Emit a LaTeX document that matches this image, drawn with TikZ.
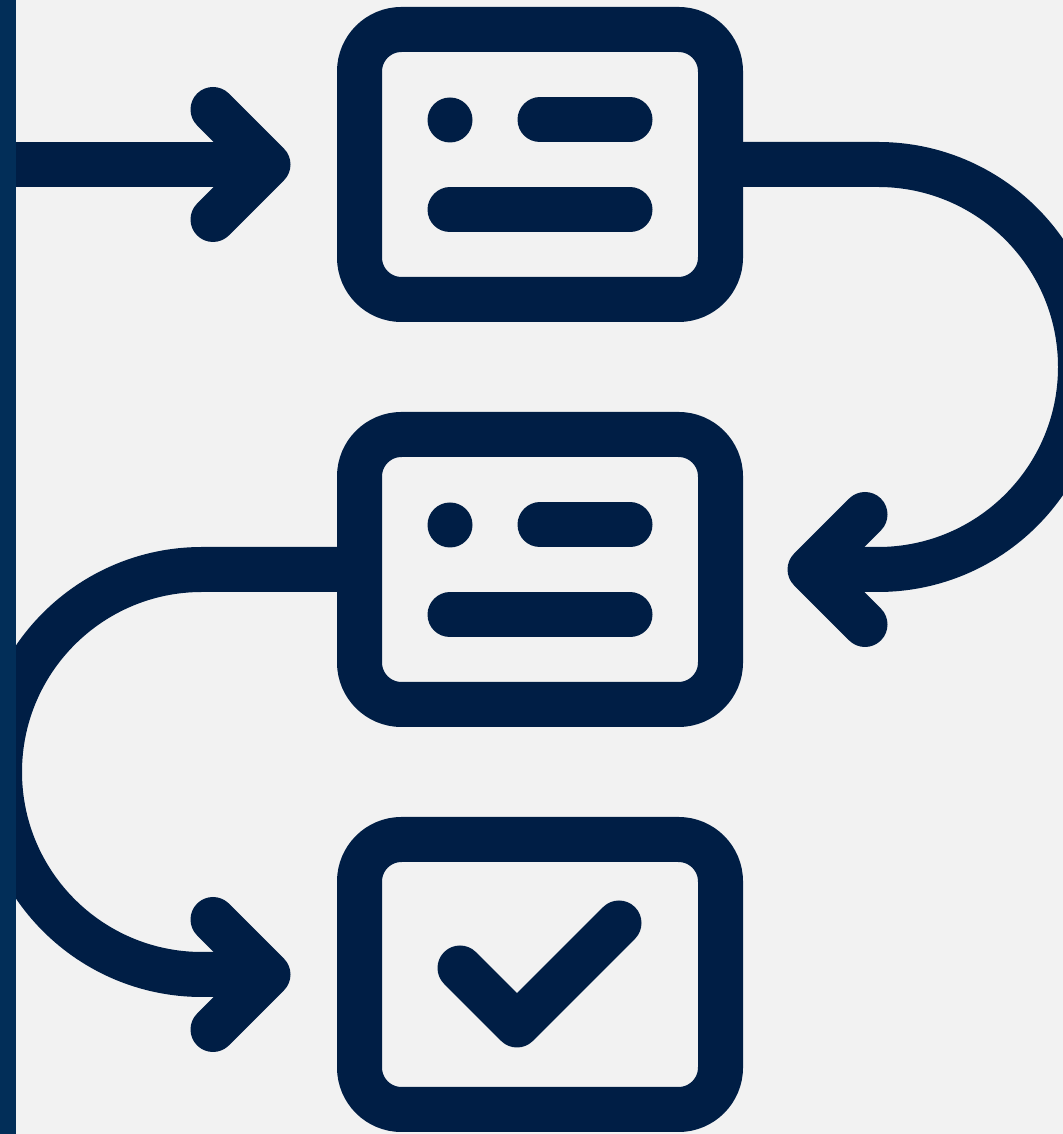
\documentclass[tikz,border=0pt]{standalone}
\usetikzlibrary{calc}
\definecolor{navy}{HTML}{001E45}
\definecolor{strip}{HTML}{022E58}
\definecolor{bg}{HTML}{F2F2F2}
\begin{document}
\begin{tikzpicture}[x=0.5pt,y=0.5pt,
  stepbox/.style={draw=navy, line width=22.5pt, rounded corners=21pt,
    minimum width=180.5pt, minimum height=135pt, inner sep=0pt, outer sep=0pt},
  conn/.style={draw=navy, line width=22.5pt},
  head/.style={draw=navy, line width=22.5pt, line cap=round, line join=round},
  bar/.style={draw=navy, line width=22.5pt, line cap=round}]
\useasboundingbox (0,0) rectangle (1063,1134);
\fill[bg] (0,0) rectangle (1063,1134);
\clip (0,0) rectangle (1063,1134);
% boxes
\node[stepbox] (b1) at (540,969.5) {};
\node[stepbox] (b2) at (540,564.5) {};
\node[stepbox] (b3) at (540,159.5) {};
% inner content box 1
\fill[navy] (450,1014) circle[radius=22.5];
\draw[bar] (540,1014) -- (630,1014);
\draw[bar] (450,924) -- (630,924);
% inner content box 2
\fill[navy] (450,609) circle[radius=22.5];
\draw[bar] (540,609) -- (630,609);
\draw[bar] (450,519) -- (630,519);
% check mark box 3
\draw[head] (460,166) -- (517,109) -- (619,211);
% connectors
\coordinate (start) at (-40,969.5);
\coordinate (tip1) at (268,969.5);
\coordinate (tip2) at (810,564.5);
\coordinate (tip3) at (268,159.5);
\draw[conn] (start) -- (tip1);
\draw[head] (213,1024.5) -- (tip1) -- (213,914.5);
\draw[conn] (b1.east) -- (878,969.5) arc[start angle=90, end angle=-90, radius=202.5] -- (tip2);
\draw[head] (865,619.5) -- (tip2) -- (865,509.5);
\draw[conn] (b2.west) -- (202,564.5) arc[start angle=90, end angle=270, radius=202.5] -- (tip3);
\draw[head] (213,214.5) -- (tip3) -- (213,104.5);
% left strip
\fill[strip] (0,0) rectangle (16,1134);
\end{tikzpicture}
\end{document}
